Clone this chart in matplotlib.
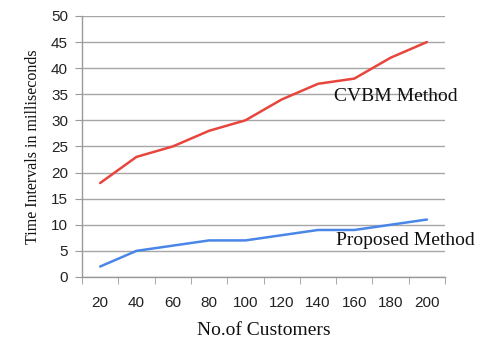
import matplotlib
matplotlib.use("Agg")
import matplotlib.pyplot as plt
import numpy as np

customers = [20, 40, 60, 80, 100, 120, 140, 160, 180, 200]
cvbm = [18, 23, 25, 28, 30, 34, 37, 38, 42, 45]
proposed = [2, 5, 6, 7, 7, 8, 9, 9, 10, 11]
yticks = [0, 5, 10, 15, 20, 25, 30, 35, 40, 45, 50]

fig = plt.figure(figsize=(4.94, 3.39), dpi=100)
ax = fig.add_axes([0.166, 0.183, 0.735, 0.770])

x = np.arange(len(customers))
ax.plot(x, cvbm, color="#E8453C", lw=1.8, solid_capstyle="round")
ax.plot(x, proposed, color="#4A86E8", lw=1.8, solid_capstyle="round")

ax.set_xlim(-0.5, len(customers) - 0.5)
ax.set_ylim(0, 50)
ax.set_yticks(yticks)
ax.set_xticks(x)
ax.set_xticklabels([str(c) for c in customers])
ax.set_xticks(np.arange(-0.5, len(customers)), minor=True)

for s in ["top", "right"]:
    ax.spines[s].set_visible(False)
for s in ["left", "bottom"]:
    ax.spines[s].set_color("#9A9A9A")
    ax.spines[s].set_linewidth(1.0)

ax.yaxis.grid(True, color="#A6A6A6", lw=1.0)
ax.set_axisbelow(True)
ax.tick_params(axis="x", which="major", length=0, pad=14, labelsize=11,
               labelcolor="#222222")
ax.tick_params(axis="x", which="minor", length=5, color="#9A9A9A", direction="out")
ax.tick_params(axis="y", length=5, color="#9A9A9A", pad=5, labelsize=11,
               labelcolor="#222222")
for lab in ax.get_xticklabels() + ax.get_yticklabels():
    lab.set_fontfamily("Liberation Sans")

ax.set_xlabel("No.of Customers", fontfamily="Liberation Serif", fontsize=14,
              labelpad=8, color="#111111")
ax.set_ylabel("Time Intervals in milliseconds", fontfamily="Liberation Serif",
              fontsize=11.5, labelpad=7, color="#111111")

ax.text(6.45, 34.6, "CVBM Method", fontfamily="Liberation Serif", fontsize=14,
        va="center", ha="left", color="#111111")
ax.text(6.5, 7.0, "Proposed Method", fontfamily="Liberation Serif", fontsize=14,
        va="center", ha="left", color="#111111", clip_on=False)

fig.savefig("out.png", dpi=100)
